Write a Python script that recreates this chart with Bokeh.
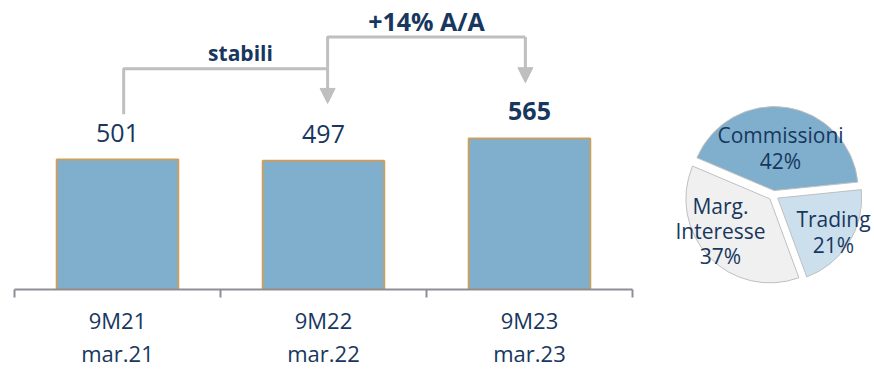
import math
from bokeh.plotting import figure
from bokeh.models import (Range1d, LinearAxis, FixedTicker, Arrow, NormalHead,
                          ColumnDataSource)
from bokeh.layouts import row
from bokeh.embed import file_html
from bokeh.resources import INLINE
from bokeh.core.properties import value

# ---------------- data ----------------
categories = ["9M21", "9M22", "9M23"]
periods = ["mar.21", "mar.22", "mar.23"]
revenues = [501, 497, 565]
label_styles = ["normal", "normal", "bold"]
note_left = "stabili"
note_right = "+14% A/A"

pie_names = ["Commissioni", "Marg.\nInteresse", "Trading"]
pie_pcts = [42, 37, 21]
pie_colors = ["#7FAFCD", "#F0F0F0", "#CCDFEC"]

# ---------------- styles ----------------
NAVY = "#17375E"
GRAY = "#BFBFBF"
FONT = "Open Sans"

Y0, Y1 = 108, 982
W1, H = 650, 370
FRAME_H = 292
scale = FRAME_H / (Y1 - Y0)


def py(px):
    """pixel row (from top) -> data value"""
    return Y0 + (FRAME_H - px) / scale


xs = [i + 0.5 for i in range(len(categories))]

p = figure(width=W1, height=H, x_range=Range1d(0, len(categories)),
           y_range=Range1d(Y0, Y1), output_backend="svg", toolbar_location=None,
           min_border_left=14, min_border_right=18, min_border_top=0,
           min_border_bottom=H - FRAME_H, x_axis_location=None, y_axis_location=None)
p.outline_line_color = None
p.grid.visible = False
p.background_fill_color = "white"

src = ColumnDataSource(dict(x=xs, top=revenues, lab=[str(v) for v in revenues],
                            style=label_styles))
p.vbar(x="x", top="top", bottom=Y0, width=0.59, source=src,
       fill_color="#7FAFCD", line_color="#C9A063", line_width=2)
p.text(x="x", y="top", text="lab", source=src, y_offset=-27,
       text_align="center", text_baseline="middle", text_font=value(FONT),
       text_font_size="25px", text_font_style="style", text_color=NAVY)

ax = LinearAxis(ticker=FixedTicker(ticks=xs, minor_ticks=list(range(len(categories) + 1))))
ax.major_label_overrides = {x: f"{c}\n{m}" for x, c, m in zip(xs, categories, periods)}
ax.axis_line_color = "#8E8E98"
ax.axis_line_width = 2
ax.major_tick_out = 0
ax.major_tick_in = 0
ax.minor_tick_out = 8
ax.minor_tick_in = 0
ax.minor_tick_line_color = "#8E8E98"
ax.minor_tick_line_width = 2
ax.major_label_standoff = 7
ax.major_label_text_font = FONT
ax.major_label_text_font_size = "22px"
ax.major_label_text_color = NAVY
ax.major_label_text_line_height = 1.1
p.add_layout(ax, "below")

# brackets
xl, xm, xr = 0.53, 1.52, 2.48
p.multi_line(xs=[[xl, xl, xm], [xm, xm, xr]],
             ys=[[py(115), py(69), py(69)], [py(69), py(37), py(37)]],
             line_color=GRAY, line_width=3)
for xa, ya0, ya1 in [(xm, py(69), py(104)), (xr, py(37), py(83))]:
    p.add_layout(Arrow(x_start=xa, y_start=ya0, x_end=xa, y_end=ya1,
                       line_color=GRAY, line_width=3,
                       end=NormalHead(size=15, fill_color=GRAY, line_color=GRAY, line_width=1)))
p.text(x=[1.097, 2.0], y=[py(53), py(21)], text=[note_left, note_right],
       text_align="center", text_baseline="middle", text_font=value(FONT),
       text_font_style="bold", text_font_size=["21px", "25px"], text_color=NAVY)

# ---------------- pie ----------------
W2 = 874 - W1
q = figure(width=W2, height=H, x_range=Range1d(0, W2), y_range=Range1d(H - FRAME_H, H),
           output_backend="svg", toolbar_location=None, min_border=0,
           min_border_bottom=H - FRAME_H,
           x_axis_location=None, y_axis_location=None)
q.outline_line_color = None
q.grid.visible = False

cx, cy, R, d = 123, H - 197, 84, 5
start = math.radians(5.8)
starts, ends, wx, wy = [], [], [], []
for pct in pie_pcts:
    span = 2 * math.pi * pct / 100
    mid = start + span / 2
    starts.append(start)
    ends.append(start + span)
    wx.append(cx + d * math.cos(mid))
    wy.append(cy + d * math.sin(mid))
    start += span
q.wedge(x=wx, y=wy, radius=R, start_angle=starts, end_angle=ends,
        fill_color=pie_colors, line_color=GRAY, line_width=1)

lab_dx = [7, -53, 60]
lab_dy = [48, -36, -37]
q.text(x=[cx + v for v in lab_dx], y=[cy + v for v in lab_dy],
       text=[f"{n}\n{v}%" for n, v in zip(pie_names, pie_pcts)],
       text_align="center", text_baseline="middle", text_font=value(FONT),
       text_font_size="21px", text_color=NAVY, text_line_height=0.9)

layout = row(p, q)
open("out.html", "w").write(file_html(layout, INLINE))
